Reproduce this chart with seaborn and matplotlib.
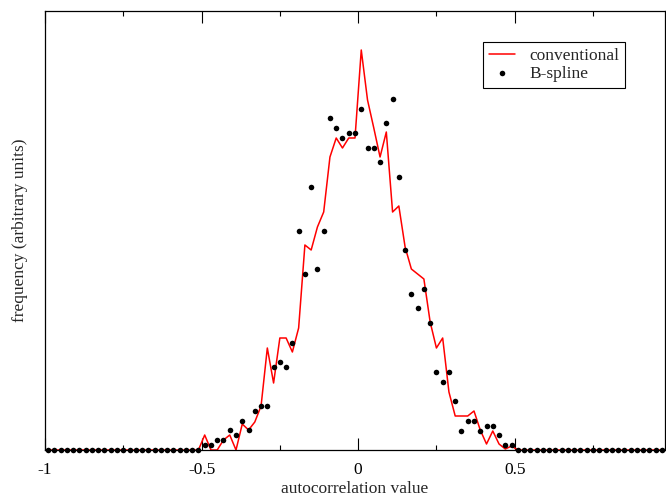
import numpy as np
import pandas as pd
import matplotlib
matplotlib.use("Agg")
import matplotlib.pyplot as plt
import seaborn as sns

# autocorrelation bins (centres), -0.99 .. 0.97 in steps of 0.02
acorr = np.round(np.arange(-0.99, 0.98, 0.02), 2)

# frequencies (arbitrary units), bins -0.51 .. 0.51
conv_mid = [0,
            15, 0, 0, 10, 15, 0, 26, 20, 28, 44,
            102, 67, 112, 112, 98, 122, 205, 200, 223, 238,
            293, 312, 302, 312, 312, 400, 350, 322, 293, 318,
            238, 244, 203, 181, 176, 171, 128, 102, 112, 58,
            34, 34, 34, 39, 20, 6, 19, 6, 1, 4,
            0]
bspl_mid = [0,
            5, 5, 10, 10, 20, 15, 29, 20, 39, 44,
            44, 83, 88, 83, 107, 219, 176, 263, 181, 219,
            332, 322, 312, 317, 317, 341, 302, 302, 288, 327,
            351, 273, 200, 156, 142, 161, 127, 78, 68, 78,
            49, 19, 29, 29, 19, 24, 24, 15, 5, 5,
            0]
# everything outside |x| > 0.51 is zero
conventional = [0] * 24 + conv_mid + [0] * 23
bspline = [0] * 24 + bspl_mid + [0] * 23

df = pd.DataFrame({"acorr": acorr, "conventional": conventional, "bspline": bspline})

sns.set_theme(style="white")
plt.rcParams['font.family'] = ['Liberation Serif', 'DejaVu Serif']
plt.rcParams['axes.edgecolor'] = 'black'
plt.rcParams['axes.linewidth'] = 0.9

fig = plt.figure(figsize=(6.66, 4.99), dpi=100)
ax = fig.add_axes([45/666, 49/499, 620/666, 439/499])

sns.lineplot(data=df, x="acorr", y="conventional", color="#ff0000", linewidth=1.1,
             ax=ax, label="conventional", zorder=2)
sns.scatterplot(data=df, x="acorr", y="bspline", color="black", s=16, linewidth=0,
                ax=ax, label="B-spline", zorder=3, clip_on=False)

ax.set_xlim(-1, 0.98)
ax.set_ylim(0, 439)
ax.set_yticks([])
ax.set_xticks([-1, -0.5, 0, 0.5])
ax.set_xticklabels(['-1', '-0.5', '0', '0.5'])
ax.set_xticks([-0.75, -0.25, 0.25, 0.75], minor=True)
ax.tick_params(axis='x', which='both', direction='in', top=True, bottom=True,
               colors='black', labelsize=12.5, pad=8.5)
ax.tick_params(axis='x', which='major', length=8.5, width=0.8)
ax.tick_params(axis='x', which='minor', length=3.6, width=0.8)

ax.set_xlabel("autocorrelation value", fontsize=12.5, labelpad=2)
ax.set_ylabel("frequency (arbitrary units)", fontsize=12.5, labelpad=12.5)

leg = ax.legend(loc="upper right", bbox_to_anchor=(0.95, 0.95), fontsize=12.5,
                frameon=True, fancybox=False, edgecolor="black", framealpha=1,
                handlelength=1.5, handletextpad=0.8, borderpad=0.35, labelspacing=0.1,
                markerscale=1.0)
leg.get_frame().set_linewidth(0.8)

fig.savefig("out.png", dpi=100)
